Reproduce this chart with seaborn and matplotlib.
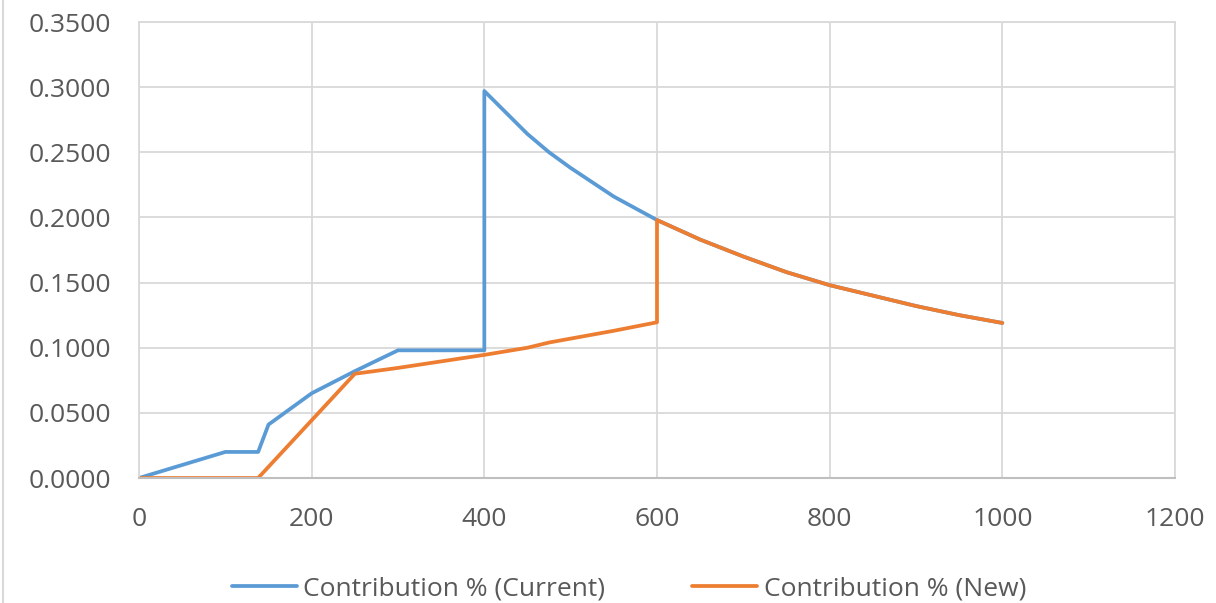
import matplotlib
matplotlib.use("Agg")
import matplotlib.pyplot as plt
from matplotlib.ticker import FormatStrFormatter, MultipleLocator
import pandas as pd
import seaborn as sns

# Contribution curves
current_x = [0, 100, 138, 150, 200, 250, 300, 400, 400, 450, 475, 500, 550, 600,
             650, 700, 750, 800, 850, 900, 950, 1000]
current_y = [0.0, 0.020, 0.020, 0.041, 0.065, 0.082, 0.098, 0.098, 0.297, 0.264,
             0.250, 0.238, 0.216, 0.198, 0.183, 0.170, 0.158, 0.148, 0.140,
             0.132, 0.125, 0.119]

new_x = [0, 138, 250, 300, 400, 450, 475, 500, 550, 600, 600,
         650, 700, 750, 800, 850, 900, 950, 1000]
new_y = [0.0, 0.0, 0.080, 0.0845, 0.0945, 0.100, 0.104, 0.107, 0.113, 0.1195,
         0.198, 0.183, 0.170, 0.158, 0.148, 0.140, 0.132, 0.125, 0.119]

series_names = ["Contribution % (Current)", "Contribution % (New)"]
series_colors = ["#5B9BD5", "#ED7D31"]

df = pd.concat([
    pd.DataFrame({"x": current_x, "y": current_y, "series": series_names[0]}),
    pd.DataFrame({"x": new_x, "y": new_y, "series": series_names[1]}),
], ignore_index=True)

sns.set_theme(style="white")
plt.rcParams["font.family"] = ["Open Sans", "DejaVu Sans"]

fig = plt.figure(figsize=(12.16, 6.03), dpi=100)
fig.patch.set_facecolor("white")
ax = fig.add_axes([139 / 1216, 125 / 603, 1036 / 1216, 456 / 603])

sns.lineplot(data=df, x="x", y="y", hue="series", palette=series_colors,
             hue_order=series_names, sort=False, estimator=None,
             linewidth=2.7, ax=ax, legend=True)

ax.set_xlim(0, 1200)
ax.set_ylim(0, 0.35)
ax.xaxis.set_major_locator(MultipleLocator(200))
ax.yaxis.set_major_locator(MultipleLocator(0.05))
ax.yaxis.set_major_formatter(FormatStrFormatter("%.4f"))
ax.set_xlabel("")
ax.set_ylabel("")

ax.grid(True, color="#d9d9d9", linewidth=1.3)
ax.set_axisbelow(True)
for side in ["left", "top", "right"]:
    ax.spines[side].set_color("#d9d9d9")
    ax.spines[side].set_linewidth(1.3)
ax.spines["bottom"].set_color("#bfbfbf")
ax.spines["bottom"].set_linewidth(1.5)

ax.tick_params(axis="both", length=0, labelsize=19, labelcolor="#595959")
ax.tick_params(axis="x", pad=21)
ax.tick_params(axis="y", pad=20)

handles, labels = ax.get_legend_handles_labels()
ax.legend(handles, labels, loc="center", bbox_to_anchor=(0.473, -0.2425),
          ncol=2, frameon=False, fontsize=19, handlelength=2.45,
          handletextpad=0.25, columnspacing=3.3, labelcolor="#595959")

# thin frame line on the left edge of the chart area
fig.add_artist(plt.Line2D([2.5 / 1216, 2.5 / 1216], [0, 1], color="#d9d9d9",
                          linewidth=1.5, transform=fig.transFigure))

fig.savefig("out.png", dpi=100, facecolor="white")
